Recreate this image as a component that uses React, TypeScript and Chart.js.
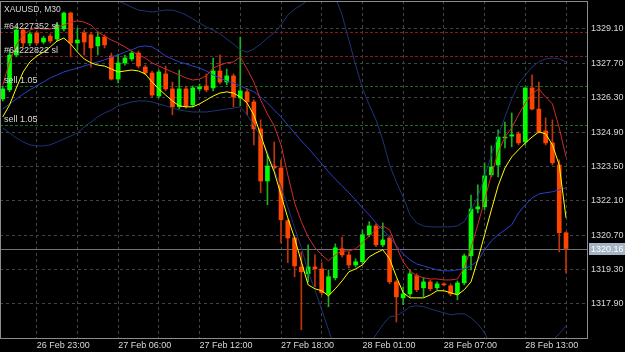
import React, { useEffect, useRef } from "react";
import { Chart, registerables } from "chart.js";

Chart.register(...registerables);

const symbolTitle = "XAUUSD, M30";

const opens = [
  1326.25, 1326.62, 1328.04, 1329.06, 1328.53, 1328.94, 1328.57, 1328.81, 1328.69, 1329.10,
  1329.75, 1328.53, 1328.94, 1328.86, 1328.41, 1328.77, 1328.00, 1327.06, 1327.72, 1327.88,
  1328.12, 1327.55, 1327.31, 1326.37, 1327.27, 1326.66, 1325.93, 1326.66, 1326.01, 1326.66,
  1326.78, 1326.70, 1327.39, 1326.94, 1327.19, 1326.29, 1326.54, 1326.13, 1325.03, 1322.91,
  1323.52, 1323.44, 1321.29, 1320.59, 1319.41, 1319.13, 1319.41, 1319.33, 1318.31, 1318.97,
  1320.15, 1319.90, 1319.49, 1319.62, 1320.72, 1321.08, 1320.31, 1320.59, 1318.80, 1318.15,
  1318.31, 1319.05, 1318.56, 1318.80, 1318.56, 1318.72, 1318.64, 1318.31, 1318.76, 1319.86,
  1321.77, 1321.86, 1323.16, 1323.56, 1324.66, 1324.74, 1324.83, 1324.50, 1326.70, 1325.84,
  1324.95, 1324.46, 1323.56, 1320.80,
];
const highs = [
  1326.78, 1328.25, 1329.22, 1329.14, 1328.98, 1329.02, 1328.81, 1328.90, 1329.34, 1329.79,
  1329.79, 1329.14, 1329.06, 1328.94, 1328.98, 1328.86, 1328.12, 1328.08, 1328.04, 1328.20,
  1328.20, 1327.63, 1327.39, 1327.43, 1327.59, 1326.94, 1327.43, 1326.78, 1326.78, 1326.86,
  1327.27, 1327.92, 1328.04, 1327.47, 1327.27, 1328.77, 1326.66, 1326.21, 1325.40, 1323.97,
  1324.50, 1323.77, 1321.33, 1320.63, 1320.02, 1320.31, 1319.90, 1319.58, 1319.29, 1320.35,
  1320.63, 1320.02, 1319.74, 1320.92, 1321.25, 1321.16, 1321.20, 1320.67, 1318.88, 1318.60,
  1319.29, 1319.13, 1318.97, 1318.88, 1318.80, 1318.76, 1318.72, 1318.84, 1319.94, 1322.34,
  1322.75, 1323.65, 1324.34, 1324.99, 1325.31, 1325.68, 1324.91, 1326.70, 1327.23, 1326.94,
  1325.48, 1325.40, 1323.77, 1320.84,
];
const lows = [
  1326.17, 1326.54, 1327.96, 1328.37, 1328.41, 1328.45, 1328.49, 1328.53, 1328.61, 1329.02,
  1327.96, 1328.25, 1328.04, 1327.55, 1328.04, 1328.33, 1327.02, 1326.90, 1327.63, 1327.80,
  1327.51, 1327.23, 1326.33, 1326.29, 1326.58, 1325.60, 1325.84, 1325.88, 1325.93, 1326.58,
  1326.54, 1326.58, 1326.86, 1326.82, 1325.93, 1325.97, 1325.60, 1324.38, 1322.43, 1321.94,
  1323.36, 1320.39, 1319.58, 1319.01, 1316.85, 1318.80, 1318.60, 1318.27, 1317.79, 1318.88,
  1319.82, 1319.37, 1319.41, 1319.53, 1320.63, 1320.23, 1320.23, 1318.72, 1317.17, 1317.87,
  1318.19, 1318.40, 1318.19, 1318.44, 1318.48, 1318.64, 1318.23, 1318.07, 1318.68, 1319.29,
  1321.61, 1321.73, 1323.08, 1323.08, 1324.26, 1324.30, 1324.38, 1324.38, 1325.80, 1324.87,
  1324.38, 1323.56, 1320.02, 1319.17,
];
const closes = [
  1326.66, 1328.04, 1329.06, 1328.53, 1328.90, 1328.53, 1328.73, 1328.61, 1329.26, 1329.75,
  1328.53, 1328.65, 1328.57, 1328.33, 1328.77, 1328.45, 1327.06, 1327.72, 1327.92, 1328.12,
  1327.59, 1327.31, 1326.41, 1327.35, 1326.66, 1325.93, 1326.66, 1325.97, 1326.70, 1326.74,
  1326.62, 1327.39, 1326.94, 1327.19, 1326.33, 1326.58, 1326.13, 1325.03, 1322.91, 1323.52,
  1323.44, 1321.33, 1320.59, 1319.45, 1319.21, 1319.41, 1319.33, 1318.36, 1319.01, 1320.19,
  1319.90, 1319.49, 1319.62, 1320.72, 1321.08, 1320.31, 1320.51, 1318.80, 1318.19, 1318.31,
  1319.13, 1318.48, 1318.80, 1318.52, 1318.72, 1318.68, 1318.31, 1318.76, 1319.86, 1321.77,
  1321.86, 1323.12, 1323.48, 1324.70, 1324.70, 1324.79, 1324.46, 1326.70, 1325.84, 1324.91,
  1324.46, 1323.65, 1320.80, 1320.16,
];

// yellow moving average
const maYellow = [
  1325.52, 1326.01, 1326.70, 1327.35, 1327.76, 1328.00, 1328.16, 1328.37, 1328.61, 1328.73,
  1328.49, 1328.16, 1327.88, 1327.72, 1327.63, 1327.59, 1327.47, 1327.35, 1327.39, 1327.43,
  1327.39, 1327.27, 1326.94, 1326.66, 1326.41, 1326.17, 1325.97, 1325.93, 1325.93, 1326.05,
  1326.21, 1326.37, 1326.49, 1326.54, 1326.49, 1326.33, 1326.09, 1325.60, 1324.79, 1323.97,
  1323.28, 1322.34, 1321.41, 1320.59, 1319.62, 1318.68, 1318.52, 1318.44, 1318.23, 1318.52,
  1318.84, 1319.21, 1319.33, 1319.49, 1319.82, 1319.98, 1320.11, 1319.74, 1319.01, 1318.36,
  1318.15, 1318.15, 1318.15, 1318.27, 1318.44, 1318.44, 1318.36, 1318.27, 1318.48, 1318.80,
  1319.70, 1320.72, 1321.73, 1322.71, 1323.44, 1323.89, 1324.18, 1324.46, 1324.70, 1324.91,
  1324.83, 1324.38, 1323.56, 1321.41,
];
// red moving average
const maRed = [
  1326.82, 1327.76, 1328.45, 1328.86, 1329.06, 1329.14, 1329.10, 1329.10, 1329.18, 1329.26,
  1329.38, 1329.43, 1329.38, 1329.26, 1328.98, 1328.81, 1328.65, 1328.53, 1328.37, 1328.20,
  1328.04, 1327.92, 1327.72, 1327.59, 1327.47, 1327.35, 1327.23, 1327.11, 1327.02, 1327.06,
  1327.19, 1327.51, 1327.63, 1327.72, 1327.76, 1327.96, 1327.47, 1326.94, 1326.21, 1325.64,
  1325.15, 1324.38, 1323.16, 1322.02, 1321.25, 1320.63, 1320.19, 1319.90, 1319.66, 1319.90,
  1320.06, 1320.06, 1320.15, 1320.39, 1320.67, 1320.92, 1321.08, 1320.92, 1320.23, 1319.62,
  1319.25, 1319.05, 1318.97, 1318.92, 1318.92, 1318.88, 1318.88, 1318.92, 1319.37, 1320.19,
  1321.12, 1322.14, 1323.16, 1324.09, 1324.70, 1325.07, 1325.60, 1326.09, 1326.45, 1326.66,
  1326.33, 1326.05, 1325.07, 1323.89,
];
// Bollinger bands
const bbUpper = [
  1330.69, 1330.93, 1331.18, 1331.38, 1331.54, 1331.66, 1331.75, 1331.79, 1331.79, 1331.70,
  1331.58, 1331.42, 1331.26, 1331.05, 1330.85, 1330.65, 1330.44, 1330.24, 1330.12, 1329.99,
  1329.87, 1329.83, 1329.79, 1329.83, 1329.87, 1329.87, 1329.79, 1329.67, 1329.51, 1329.34,
  1329.18, 1329.06, 1328.90, 1328.69, 1328.49, 1328.25, 1328.16, 1328.29, 1328.49, 1328.73,
  1328.94, 1329.26, 1329.67, 1329.91, 1330.08, 1330.28, 1330.48, 1330.61, 1330.61, 1330.40,
  1329.67, 1328.65, 1327.63, 1326.70, 1326.01, 1325.40, 1324.58, 1323.56, 1322.87, 1322.26,
  1321.53, 1321.20, 1321.08, 1321.04, 1321.04, 1321.04, 1321.04, 1321.08, 1321.25, 1321.73,
  1322.26, 1323.08, 1323.97, 1324.74, 1325.52, 1326.25, 1326.86, 1327.23, 1327.55, 1327.76,
  1327.88, 1327.92, 1327.88, 1327.76,
];
const bbMiddle = [
  1325.84, 1326.05, 1326.25, 1326.45, 1326.62, 1326.78, 1326.94, 1327.11, 1327.23, 1327.35,
  1327.43, 1327.51, 1327.59, 1327.68, 1327.76, 1327.84, 1327.96, 1328.04, 1328.16, 1328.25,
  1328.37, 1328.41, 1328.37, 1328.20, 1328.00, 1327.88, 1327.76, 1327.68, 1327.59, 1327.51,
  1327.39, 1327.23, 1327.11, 1326.98, 1326.90, 1326.78, 1326.66, 1326.54, 1326.33, 1326.09,
  1325.80, 1325.52, 1325.19, 1324.87, 1324.54, 1324.26, 1323.93, 1323.61, 1323.28, 1322.99,
  1322.71, 1322.43, 1322.14, 1321.81, 1321.53, 1321.20, 1320.92, 1320.63, 1320.27, 1319.94,
  1319.70, 1319.53, 1319.45, 1319.37, 1319.29, 1319.25, 1319.25, 1319.29, 1319.33, 1319.45,
  1319.66, 1320.11, 1320.47, 1320.72, 1320.92, 1321.12, 1321.61, 1321.94, 1322.22, 1322.38,
  1322.43, 1322.47, 1322.55, 1322.63,
];
const bbLower = [
  1325.07, 1324.87, 1324.66, 1324.50, 1324.38, 1324.34, 1324.34, 1324.38, 1324.50, 1324.62,
  1324.74, 1324.87, 1325.11, 1325.31, 1325.52, 1325.68, 1325.80, 1325.97, 1326.05, 1326.13,
  1326.17, 1326.17, 1326.13, 1326.05, 1325.97, 1325.88, 1325.80, 1325.76, 1325.72, 1325.72,
  1325.72, 1325.76, 1325.80, 1325.84, 1325.88, 1325.93, 1325.60, 1325.19, 1324.70, 1324.09,
  1323.36, 1322.67, 1321.86, 1321.00, 1320.19, 1319.21, 1318.48, 1317.66, 1316.85, 1316.04,
  1315.55, 1315.22, 1315.14, 1315.42, 1316.24, 1316.65, 1317.05, 1317.38, 1317.42, 1317.58,
  1317.79, 1317.83, 1317.79, 1317.70, 1317.62, 1317.54, 1317.46, 1317.50, 1317.50, 1317.34,
  1317.09, 1316.73, 1316.12, 1315.63, 1315.30, 1315.14, 1315.22, 1315.51, 1315.83, 1316.12,
  1316.20, 1316.40, 1316.69, 1317.01,
];

const timeLabelBars = [5, 17, 29, 41, 53, 65, 77];
const timeLabels = ["26 Feb 23:00", "27 Feb 06:00", "27 Feb 12:00", "27 Feb 18:00", "28 Feb 01:00", "28 Feb 07:00", "28 Feb 13:00"];
const priceTicks = [1317.9, 1319.3, 1320.7, 1322.1, 1323.5, 1324.9, 1326.3, 1327.7, 1329.1];
const orderLevels = [1328.99, 1328.0, 1326.78, 1325.19];
const orderTexts = ["#64227352 sl", "#64222822 sl", "sell 1.05", "sell 1.05"];
const orderIsStop = [true, true, false, false];
const bidPrice = 1320.16;

const X_MIN = -0.41;
const X_MAX = 86.24;
const Y_MIN = 1316.515;
const Y_MAX = 1330.24;

const BULL = "#00ff00";
const BEAR = "#ff4500";
const BULL_WICK = "#1fb01f";
const BEAR_WICK = "#c0340c";
const FONT = '"Liberation Sans", Arial, sans-serif';
const TEXT = "#d8d8d8";

const overlay = {
  id: "mt4overlay",
  beforeDatasetsDraw(chart: any) {
    const { ctx, chartArea: a, scales } = chart;
    const y = scales.y;
    ctx.save();
    ctx.beginPath();
    ctx.rect(a.left, a.top, a.right - a.left, a.bottom - a.top);
    ctx.clip();
    ctx.lineWidth = 1;
    orderLevels.forEach((lv, k) => {
      const py = Math.round(y.getPixelForValue(lv)) + 0.5;
      ctx.strokeStyle = orderIsStop[k] ? "#841a1a" : "#19701a";
      ctx.setLineDash([3, 2]);
      ctx.beginPath();
      ctx.moveTo(a.left, py);
      ctx.lineTo(a.right, py);
      ctx.stroke();
    });
    ctx.setLineDash([]);
    const bp = Math.round(y.getPixelForValue(bidPrice)) + 0.5;
    ctx.strokeStyle = "#6e7378";
    ctx.beginPath();
    ctx.moveTo(a.left, bp);
    ctx.lineTo(a.right, bp);
    ctx.stroke();
    ctx.restore();
  },
  afterDraw(chart: any) {
    const { ctx, chartArea: a, scales } = chart;
    const y = scales.y;
    ctx.save();
    ctx.strokeStyle = "#8c8c8c";
    ctx.lineWidth = 1;
    ctx.strokeRect(a.left + 0.5, a.top + 0.5, a.right - a.left - 1, a.bottom - a.top);
    ctx.fillStyle = TEXT;
    ctx.textAlign = "left";
    ctx.textBaseline = "alphabetic";
    ctx.font = "8.5px " + FONT;
    ctx.fillText(symbolTitle, a.left + 4, a.top + 11);
    ctx.font = "9px " + FONT;
    orderLevels.forEach((lv, k) => {
      const py = y.getPixelForValue(lv);
      ctx.fillText(orderTexts[k], a.left + 4, py - 3);
    });
    const bp = Math.round(y.getPixelForValue(bidPrice));
    ctx.fillStyle = "#a4b4c4";
    ctx.fillRect(a.right + 1, bp - 6, 40, 12);
    ctx.fillStyle = "#ffffff";
    ctx.textBaseline = "middle";
    ctx.fillText(bidPrice.toFixed(2), a.right + 3, bp + 0.5);
    ctx.restore();
  },
};

export default function App() {
  const ref = useRef<HTMLCanvasElement | null>(null);
  useEffect(() => {
    document.body.style.margin = "0";
    document.body.style.background = "#000";
    const bars = opens.map((_, i) => i);
    const up = bars.map((i) => closes[i] >= opens[i]);
    const line = (vals: number[], color: string) => ({
      type: "line" as const,
      data: vals.map((v, i) => ({ x: i, y: v })),
      borderColor: color,
      borderWidth: 1,
      pointRadius: 0,
      tension: 0,
      order: 0,
    });
    const chart = new Chart(ref.current as HTMLCanvasElement, {
      type: "bar",
      data: {
        datasets: [
          line(maYellow, "#ffff00"),
          line(maRed, "#d42a2a"),
          line(bbUpper, "#1d3575"),
          line(bbMiddle, "#2a40c8"),
          line(bbLower, "#1d3575"),
          {
            type: "bar",
            data: bars.map((i) => ({ x: i, y: [opens[i], closes[i]] })),
            backgroundColor: bars.map((i) => (up[i] ? BULL : BEAR)),
            barThickness: 4,
            minBarLength: 1,
            grouped: false,
            order: 1,
          } as any,
          {
            type: "bar",
            data: bars.map((i) => ({ x: i, y: [lows[i], highs[i]] })),
            backgroundColor: bars.map((i) => (up[i] ? BULL_WICK : BEAR_WICK)),
            barThickness: 1,
            grouped: false,
            order: 2,
          } as any,
        ],
      },
      options: {
        animation: false,
        responsive: false,
        devicePixelRatio: 1,
        events: [],
        layout: { padding: { top: 1, left: 0, right: 0, bottom: 0 } },
        plugins: { legend: { display: false }, tooltip: { enabled: false } },
        scales: {
          x: {
            type: "linear",
            min: X_MIN,
            max: X_MAX,
            offset: false,
            grid: { offset: false, color: "#444444", drawTicks: false, lineWidth: 1 },
            border: { display: false, dash: [3, 3] },
            afterBuildTicks: (s: any) => {
              s.ticks = timeLabelBars.flatMap((b) => [b, b + 6]).map((v) => ({ value: v }));
            },
            afterFit: (s: any) => {
              s.height = 14;
              s.paddingLeft = 0;
              s.paddingRight = 0;
            },
            ticks: {
              autoSkip: false,
              maxRotation: 0,
              align: "start",
              padding: 2,
              color: TEXT,
              font: { family: FONT, size: 9 },
              callback: (v: any) => {
                const k = timeLabelBars.indexOf(Number(v));
                return k >= 0 ? timeLabels[k] : "";
              },
            },
          },
          y: {
            type: "linear",
            position: "right",
            min: Y_MIN,
            max: Y_MAX,
            beginAtZero: false,
            grid: { color: "#444444", drawTicks: false, lineWidth: 1 },
            border: { display: false, dash: [3, 3] },
            afterBuildTicks: (s: any) => {
              s.ticks = priceTicks.map((v) => ({ value: v }));
            },
            afterFit: (s: any) => {
              s.width = 37;
              s.paddingTop = 0;
              s.paddingBottom = 0;
            },
            ticks: {
              padding: 3,
              color: TEXT,
              font: { family: FONT, size: 9 },
              callback: (v: any) => Number(v).toFixed(2),
            },
          },
        },
      } as any,
      plugins: [overlay],
    });
    return () => chart.destroy();
  }, []);
  return (
    <div style={{ position: "fixed", left: 0, top: 0, width: 625, height: 352, background: "#000" }}>
      <canvas ref={ref} width={625} height={352} style={{ display: "block" }} />
    </div>
  );
}
